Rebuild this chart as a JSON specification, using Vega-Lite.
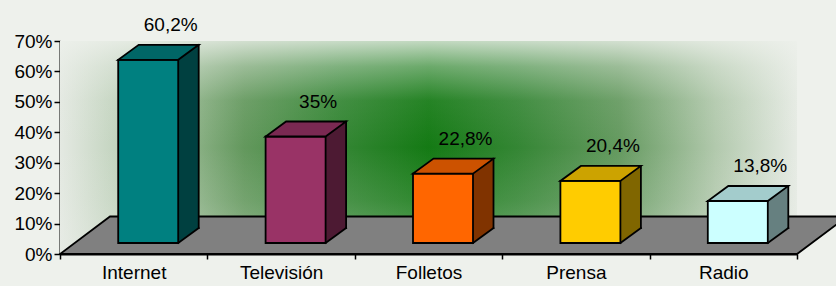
{
  "$schema": "https://vega.github.io/schema/vega-lite/v6.json",
  "autosize": "none",
  "width": 737,
  "height": 213,
  "padding": {"left": 60, "top": 41, "right": 39, "bottom": 32},
  "background": "#eef1ec",
  "config": {
    "view": {"stroke": null},
    "font": "Liberation Sans",
    "locale": {"number": {"decimal": ",", "thousands": ".", "grouping": [3], "currency": ["", " €"]}},
    "axis": {"labelOverlap": false, "labelFont": "Liberation Sans", "labelFontSize": 19, "labelColor": "black", "tickColor": "black", "domainColor": "black", "domainWidth": 2, "tickWidth": 1.5, "title": null, "zindex": 2},
    "axisY": {"labelOverlap": false, "labelFlush": false, "tickCount": 10, "grid": false, "tickSize": 6, "labelPadding": 2, "format": ".0%"},
    "axisX": {"labelOverlap": false, "tickBand": "extent", "bandPosition": 0.5, "labelAlign": "center", "tickSize": 5, "labelPadding": 4, "labelAngle": 0}
  },
  "datasets": {
    "medios": [
      {"medio": "Internet", "valor": 0.602},
      {"medio": "Televisión", "valor": 0.35},
      {"medio": "Folletos", "valor": 0.228},
      {"medio": "Prensa", "valor": 0.204},
      {"medio": "Radio", "valor": 0.138}
    ],
    "uno": [{}]
  },
  "resolve": {"scale": {"fill": "independent"}},
  "layer": [
    {
      "data": {"name": "uno"},
      "mark": {"type": "rect", "fill": {"gradient": "linear", "x1": 0, "y1": 0, "x2": 1, "y2": 0, "stops": [
        {"offset": 0, "color": "#e4e9e2"},
        {"offset": 0.12, "color": "#b0c8ab"},
        {"offset": 0.25, "color": "#63985d"},
        {"offset": 0.38, "color": "#348634"},
        {"offset": 0.5, "color": "#147a14"},
        {"offset": 0.62, "color": "#348634"},
        {"offset": 0.76, "color": "#659a60"},
        {"offset": 0.89, "color": "#b2c9ad"},
        {"offset": 1, "color": "#e6ebe4"}
      ]}},
      "encoding": {}
    },
    {
      "data": {"name": "uno"},
      "mark": {"type": "rect", "fill": {"gradient": "linear", "x1": 0, "y1": 0, "x2": 0, "y2": 1, "stops": [
        {"offset": 0, "color": "rgba(238,241,236,0.8)"},
        {"offset": 0.12, "color": "rgba(238,241,236,0.4)"},
        {"offset": 0.28, "color": "rgba(238,241,236,0.08)"},
        {"offset": 0.5, "color": "rgba(238,241,236,0)"},
        {"offset": 0.75, "color": "rgba(238,241,236,0.12)"},
        {"offset": 1, "color": "rgba(238,241,236,0.35)"}
      ]}},
      "encoding": {}
    },
    {
      "data": {"name": "uno"},
      "mark": {"type": "point", "shape": "M-73.7,0 L663.3,0 L713.3,-37.5 L-23.7,-37.5 Z", "size": 4, "filled": true, "fill": "#808080", "opacity": 1, "stroke": "black", "strokeWidth": 1.8, "strokeJoin": "miter"},
      "encoding": {
        "x": {"datum": "Internet", "type": "nominal", "scale": {"domain": ["Internet", "Televisión", "Folletos", "Prensa", "Radio"], "paddingInner": 0, "paddingOuter": 0}},
        "y": {"datum": 0, "type": "quantitative", "scale": {"domain": [0, 0.7], "nice": false}, "axis": {"values": [0, 0.1, 0.2, 0.3, 0.4, 0.5, 0.6, 0.7], "tickCount": 10, "format": ".0%", "labelOverlap": false}}
      }
    },
    {
      "data": {"name": "medios"},
      "mark": {"type": "bar", "width": 20.5, "xOffset": 54.75, "yOffset": -26, "y2Offset": -26, "opacity": 1},
      "encoding": {
        "x": {"field": "medio", "type": "nominal", "sort": null},
        "y": {"field": "valor", "type": "quantitative"},
        "y2": {"datum": 0},
        "fill": {"field": "medio", "type": "nominal", "sort": null, "legend": null, "scale": {"domain": ["Internet", "Televisión", "Folletos", "Prensa", "Radio"], "range": ["#004040", "#4d1a33", "#803300", "#806600", "#668080"]}}
      }
    },
    {
      "data": {"name": "medios"},
      "mark": {"type": "point", "shape": "M44.5,-11 L65,-26 L65,-27 L44.5,-27 Z", "size": 4, "filled": true, "opacity": 1, "strokeWidth": 0},
      "encoding": {
        "x": {"field": "medio", "type": "nominal", "sort": null},
        "y": {"datum": 0, "type": "quantitative"},
        "fill": {"field": "medio", "type": "nominal", "sort": null, "legend": null, "scale": {"domain": ["Internet", "Televisión", "Folletos", "Prensa", "Radio"], "range": ["#004040", "#4d1a33", "#803300", "#806600", "#668080"]}}
      }
    },
    {
      "data": {"name": "medios"},
      "mark": {"type": "point", "shape": "M44.5,-11 L65,-26", "size": 4, "filled": false, "opacity": 1, "stroke": "black", "strokeWidth": 1.8, "strokeCap": "square"},
      "encoding": {
        "x": {"field": "medio", "type": "nominal", "sort": null},
        "y": {"datum": 0, "type": "quantitative"}
      }
    },
    {
      "data": {"name": "medios"},
      "mark": {"type": "rule", "xOffset": 65, "yOffset": -26, "y2Offset": -26, "stroke": "black", "strokeWidth": 1.8, "strokeCap": "square"},
      "encoding": {
        "x": {"field": "medio", "type": "nominal", "sort": null},
        "y": {"field": "valor", "type": "quantitative"},
        "y2": {"datum": 0}
      }
    },
    {
      "data": {"name": "medios"},
      "mark": {"type": "bar", "width": 60, "xOffset": 14.5, "yOffset": -11, "y2Offset": -11, "opacity": 1, "stroke": "black", "strokeWidth": 1.8},
      "encoding": {
        "x": {"field": "medio", "type": "nominal", "sort": null},
        "y": {"field": "valor", "type": "quantitative"},
        "y2": {"datum": 0},
        "fill": {"field": "medio", "type": "nominal", "sort": null, "legend": null, "scale": {"domain": ["Internet", "Televisión", "Folletos", "Prensa", "Radio"], "range": ["#008080", "#993366", "#ff6600", "#ffcc00", "#ccffff"]}}
      }
    },
    {
      "data": {"name": "medios"},
      "mark": {"type": "point", "shape": "M-15.5,-11 L44.5,-11 L65,-26 L5,-26 Z", "size": 4, "filled": true, "opacity": 1, "stroke": "black", "strokeWidth": 1.8, "strokeJoin": "miter"},
      "encoding": {
        "x": {"field": "medio", "type": "nominal", "sort": null},
        "y": {"field": "valor", "type": "quantitative"},
        "fill": {"field": "medio", "type": "nominal", "sort": null, "legend": null, "scale": {"domain": ["Internet", "Televisión", "Folletos", "Prensa", "Radio"], "range": ["#006666", "#7a2952", "#cc5200", "#cca300", "#a3cccc"]}}
      }
    },
    {
      "data": {"name": "medios"},
      "mark": {"type": "text", "align": "center", "baseline": "middle", "dx": 37, "dy": -46, "fontSize": 19, "font": "Liberation Sans", "color": "black"},
      "encoding": {
        "x": {"field": "medio", "type": "nominal", "sort": null},
        "y": {"field": "valor", "type": "quantitative", "axis": {"values": [0, 0.1, 0.2, 0.3, 0.4, 0.5, 0.6, 0.7], "tickCount": 10, "format": ".0%", "labelOverlap": false}},
        "text": {"field": "valor", "type": "quantitative", "format": ".1~%"}
      }
    }
  ]
}
